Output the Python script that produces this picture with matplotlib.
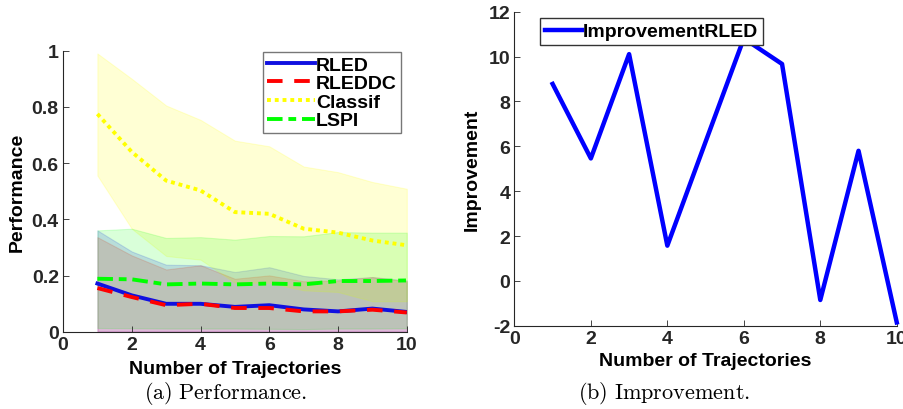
import numpy as np
import matplotlib
matplotlib.use('Agg')
import matplotlib.pyplot as plt

plt.rcParams['font.family'] = ['Liberation Sans', 'DejaVu Sans']
plt.rcParams['font.weight'] = 'bold'
plt.rcParams['mathtext.fontset'] = 'cm'
plt.rcParams['axes.unicode_minus'] = False

# donnees
n_traj = [1, 2, 3, 4, 5, 6, 7, 8, 9, 10]

rled_mean = [0.172, 0.130, 0.100, 0.100, 0.089, 0.095, 0.080, 0.073, 0.083, 0.071]
rled_up = [0.361, 0.286, 0.239, 0.237, 0.213, 0.230, 0.199, 0.187, 0.195, 0.183]
rled_low = [0.002, 0.002, 0.002, 0.002, 0.002, 0.002, 0.002, 0.002, 0.002, 0.002]

rleddc_mean = [0.156, 0.124, 0.095, 0.100, 0.085, 0.085, 0.073, 0.073, 0.079, 0.069]
rleddc_up = [0.337, 0.272, 0.222, 0.237, 0.189, 0.201, 0.180, 0.183, 0.195, 0.180]
rleddc_low = [0.001, 0.001, 0.001, 0.001, 0.001, 0.001, 0.001, 0.001, 0.001, 0.001]

classif_mean = [0.775, 0.640, 0.538, 0.503, 0.426, 0.420, 0.367, 0.353, 0.325, 0.308]
classif_up = [0.990, 0.900, 0.805, 0.754, 0.680, 0.660, 0.588, 0.568, 0.533, 0.509]
classif_low = [0.556, 0.367, 0.270, 0.257, 0.175, 0.175, 0.148, 0.142, 0.109, 0.109]

lspi_mean = [0.189, 0.187, 0.169, 0.172, 0.169, 0.172, 0.169, 0.181, 0.181, 0.183]
lspi_up = [0.361, 0.367, 0.334, 0.337, 0.328, 0.341, 0.340, 0.355, 0.353, 0.353]
lspi_low = [0.014, 0.013, 0.012, 0.012, 0.012, 0.011, 0.010, 0.012, 0.012, 0.013]

improvement = [8.78, 5.46, 10.11, 1.57, 6.2, 10.81, 9.67, -0.85, 5.8, -1.85]

fig = plt.figure(figsize=(9.04, 4.10), dpi=100)


def style_axes(ax):
    for s in ['top', 'right']:
        ax.spines[s].set_visible(False)
    for s in ['left', 'bottom']:
        ax.spines[s].set_color('#262626')
        ax.spines[s].set_linewidth(0.8)
    ax.tick_params(direction='in', length=4, width=0.6, colors='#262626', labelsize=14, pad=3)
    for lab in ax.get_xticklabels() + ax.get_yticklabels():
        lab.set_fontweight('bold')


# (a) Performance
ax1 = fig.add_axes([0.0697, 0.188, 0.3803, 0.686])
ax1.fill_between(n_traj, rled_low, rled_up, facecolor='blue', edgecolor='blue', alpha=0.15, lw=0.8)
ax1.fill_between(n_traj, rleddc_low, rleddc_up, facecolor='red', edgecolor='red', alpha=0.15, lw=0.8)
ax1.fill_between(n_traj, classif_low, classif_up, facecolor='yellow', edgecolor='yellow', alpha=0.17, lw=0.8)
ax1.fill_between(n_traj, lspi_low, lspi_up, facecolor='lime', edgecolor='lime', alpha=0.15, lw=0.8)
ax1.plot(n_traj, rled_mean, color='#1010e0', lw=2.8, label='RLED')
ax1.plot(n_traj, rleddc_mean, color='red', lw=2.8, ls=(0, (4, 3)), label='RLEDDC')
ax1.plot(n_traj, classif_mean, color='yellow', lw=2.8, ls=(0, (1, 1)), label='Classif')
ax1.plot(n_traj, lspi_mean, color='lime', lw=2.8, ls=(0, (4, 1.5, 2, 1.5)), label='LSPI')
ax1.set_xlim(0, 10)
ax1.set_ylim(0, 1)
ax1.set_xticks([0, 2, 4, 6, 8, 10])
ax1.set_yticks([0, 0.2, 0.4, 0.6, 0.8, 1])
ax1.set_yticklabels(['0', '0.2', '0.4', '0.6', '0.8', '1'])
ax1.set_xlabel('Number of Trajectories', fontsize=14, fontweight='bold', labelpad=5)
ax1.set_ylabel('Performance', fontsize=14, fontweight='bold', labelpad=4)
style_axes(ax1)
leg1 = ax1.legend(loc='upper right', bbox_to_anchor=(0.983, 0.995), fontsize=14, handlelength=2.5,
                  handletextpad=0.05, borderpad=0.2, labelspacing=0.05, fancybox=False,
                  framealpha=1, edgecolor='#777777', borderaxespad=0)
leg1.get_frame().set_linewidth(1.0)
for t in leg1.get_texts():
    t.set_fontweight('bold')

# (b) Improvement
ax2 = fig.add_axes([0.569, 0.203, 0.423, 0.766])
ax2.plot(n_traj, improvement, color='blue', lw=3.2, label='ImprovementRLED', clip_on=False)
ax2.set_xlim(0, 10)
ax2.set_ylim(-2, 12)
ax2.set_xticks([0, 2, 4, 6, 8, 10])
ax2.set_yticks([-2, 0, 2, 4, 6, 8, 10, 12])
ax2.set_xlabel('Number of Trajectories', fontsize=14, fontweight='bold', labelpad=4)
ax2.set_ylabel('Improvement', fontsize=14, fontweight='bold', labelpad=6)
style_axes(ax2)
leg2 = ax2.legend(loc='upper left', bbox_to_anchor=(0.067, 0.98), fontsize=14, handlelength=1.9,
                  handletextpad=0.05, borderpad=0.25, fancybox=False, framealpha=1,
                  edgecolor='#333333', borderaxespad=0)
for t in leg2.get_texts():
    t.set_fontweight('bold')

fig.text(0.25, 0.04, r'$\mathrm{(a)\ Performance.}$', ha='center', va='center', fontsize=16)
fig.text(0.735, 0.04, r'$\mathrm{(b)\ Improvement.}$', ha='center', va='center', fontsize=16)

fig.savefig('out.png', dpi=100)
